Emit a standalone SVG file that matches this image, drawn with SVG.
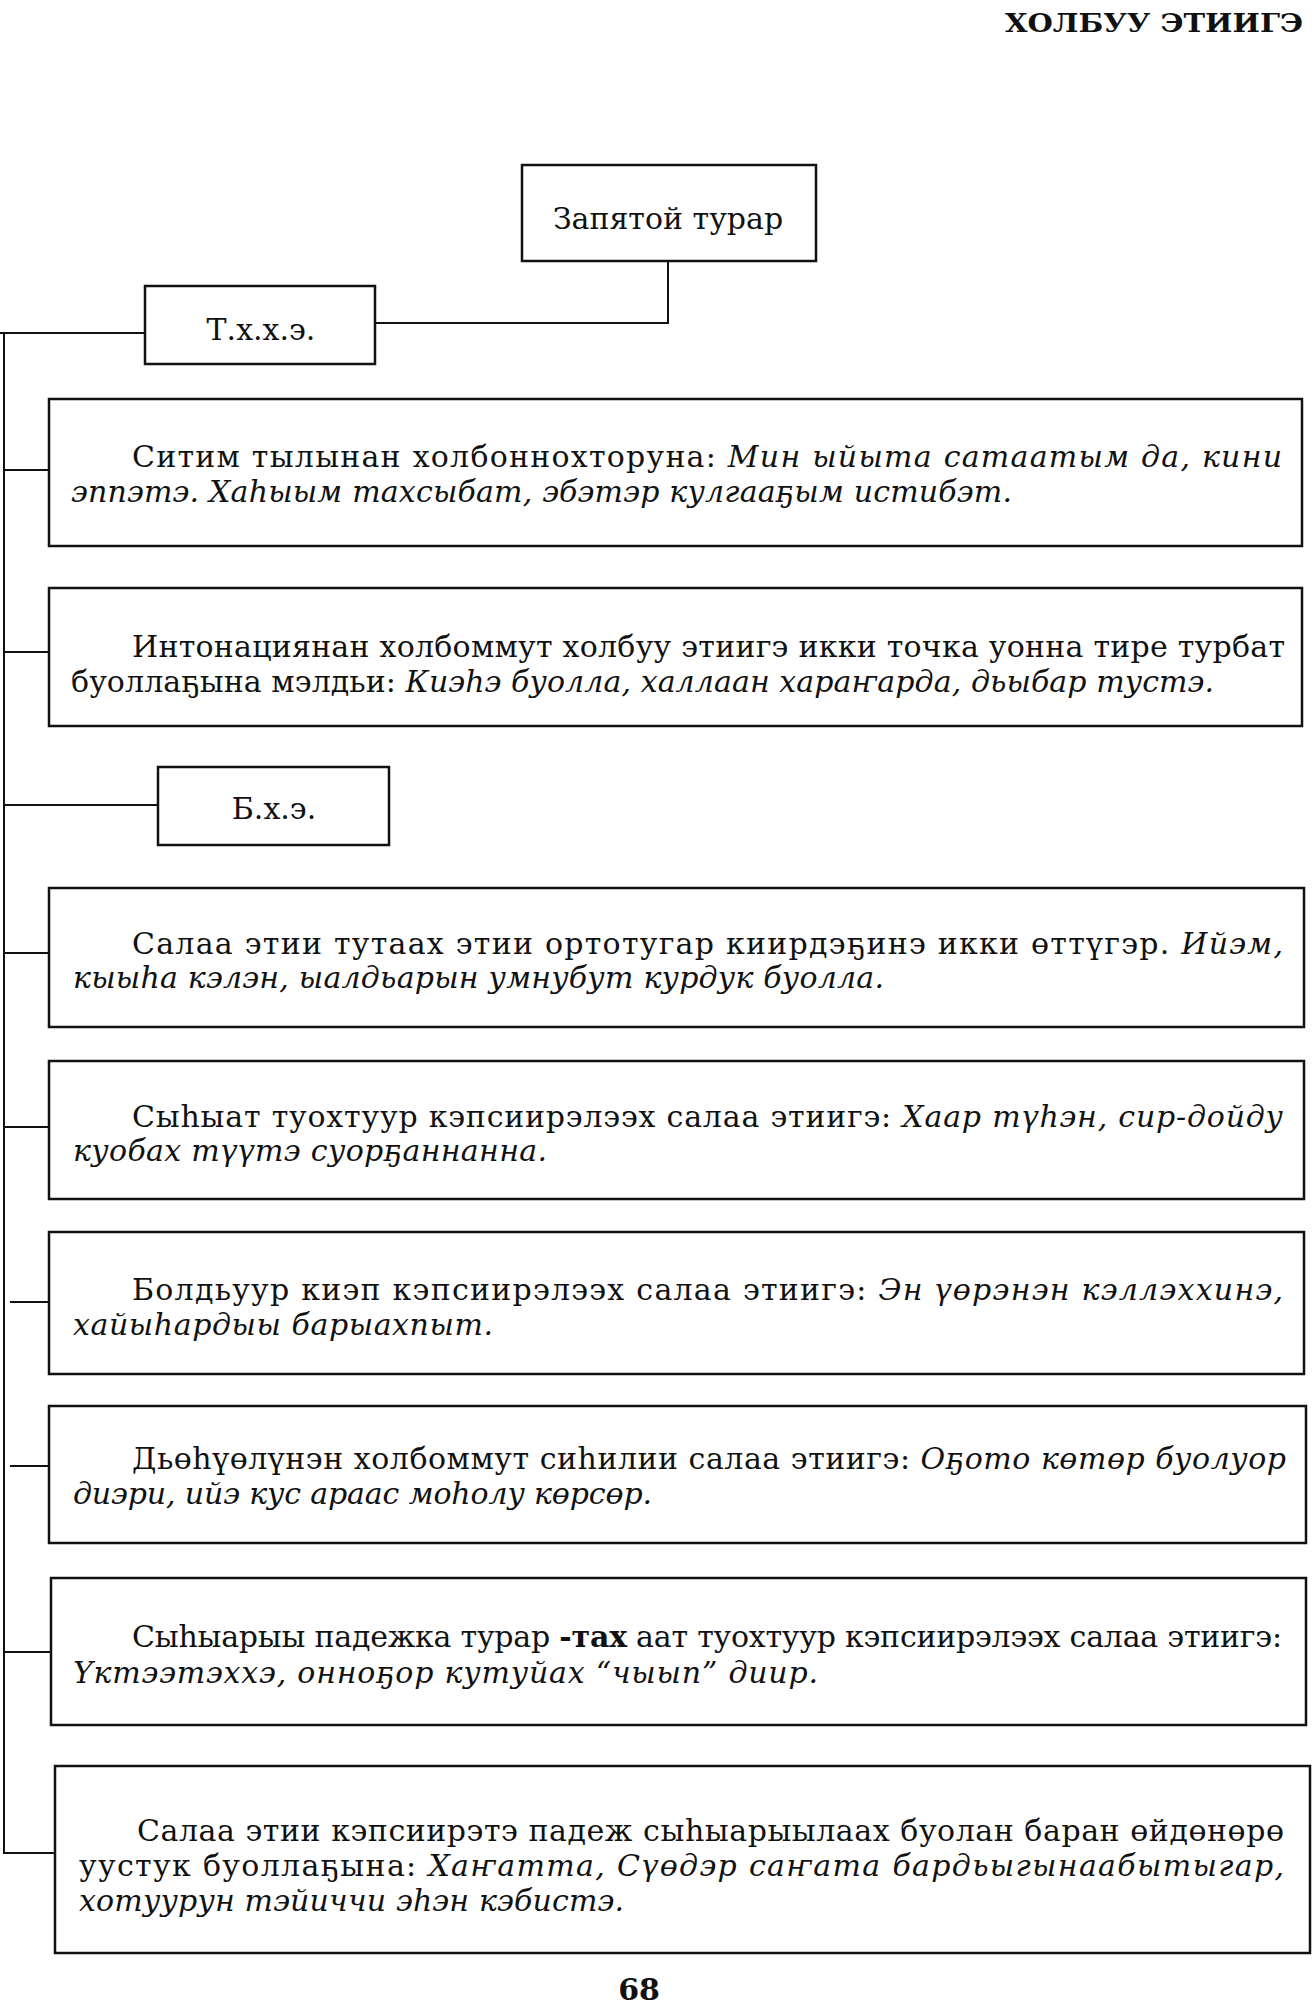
<svg xmlns="http://www.w3.org/2000/svg" width="1314" height="2006" viewBox="0 0 1314 2006">
<style>
  .bg { fill: #ffffff; }
  .box { fill: #ffffff; stroke: #111111; stroke-width: 2.5; }
  .conn { fill: none; stroke: #111111; stroke-width: 2; }
  .t { font-family: "DejaVu Serif", "Liberation Serif", serif; font-size: 30px; fill: #111111; }
  .i { font-style: italic; }
  .b { font-weight: bold; }
  .title { font-family: "DejaVu Serif", "Liberation Serif", serif; font-size: 26px; font-weight: bold; fill: #111111; }
</style>
<rect class="bg" x="0" y="0" width="1314" height="2006"/>

<text id="page-title" class="title" x="1005" y="32" textLength="298" lengthAdjust="spacingAndGlyphs">ХОЛБУУ ЭТИИГЭ</text>

<g id="connectors">
  <polyline class="conn" points="668,261 668,323 376,323"/>
  <polyline class="conn" points="0,333 144,333"/>
  <polyline class="conn" points="4,333 4,1853 55,1853"/>
  <line class="conn" x1="4" y1="470" x2="49" y2="470"/>
  <line class="conn" x1="4" y1="652" x2="49" y2="652"/>
  <line class="conn" x1="4" y1="805" x2="157" y2="805"/>
  <line class="conn" x1="4" y1="953" x2="49" y2="953"/>
  <line class="conn" x1="4" y1="1127" x2="49" y2="1127"/>
  <line class="conn" x1="10" y1="1302" x2="49" y2="1302"/>
  <line class="conn" x1="10" y1="1466" x2="49" y2="1466"/>
  <line class="conn" x1="4" y1="1652" x2="51" y2="1652"/>
</g>

<g id="node-zapyatoi">
  <rect class="box" x="522" y="165" width="294" height="96"/>
  <text class="t" x="668" y="229" text-anchor="middle">Запятой турар</text>
</g>

<g id="node-txxe">
  <rect class="box" x="145" y="286" width="230" height="78"/>
  <text class="t" x="261" y="340" text-anchor="middle">Т.х.х.э.</text>
</g>

<g id="node-sitim">
  <rect class="box" x="49" y="399" width="1253" height="147"/>
  <text class="t" x="132" y="467" textLength="1150" lengthAdjust="spacing">Ситим тылынан холбоннохторуна: <tspan class="i">Мин ыйыта сатаатым да, кини</tspan></text>
  <text class="t i" x="71" y="502" textLength="941" lengthAdjust="spacing">эппэтэ. Хаһыым тахсыбат, эбэтэр кулгааҕым истибэт.</text>
</g>

<g id="node-intonatsiya">
  <rect class="box" x="49" y="588" width="1253" height="138"/>
  <text class="t" x="132" y="657" textLength="1153" lengthAdjust="spacing">Интонациянан холбоммут холбуу этиигэ икки точка уонна тире турбат</text>
  <text class="t" x="71" y="692" textLength="1143" lengthAdjust="spacing">буоллаҕына мэлдьи: <tspan class="i">Киэһэ буолла, халлаан хараҥарда, дьыбар тустэ.</tspan></text>
</g>

<g id="node-bxe">
  <rect class="box" x="158" y="767" width="231" height="78"/>
  <text class="t" x="274" y="819" text-anchor="middle">Б.х.э.</text>
</g>

<g id="node-salaa-tutaakh">
  <rect class="box" x="49" y="888" width="1255" height="139"/>
  <text class="t" x="132" y="954" textLength="1151" lengthAdjust="spacing">Салаа этии тутаах этии ортотугар киирдэҕинэ икки өттүгэр. <tspan class="i">Ийэм,</tspan></text>
  <text class="t i" x="73" y="988" textLength="811" lengthAdjust="spacing">кыыһа кэлэн, ыалдьарын умнубут курдук буолла.</text>
</g>

<g id="node-syhyat">
  <rect class="box" x="49" y="1061" width="1255" height="138"/>
  <text class="t" x="132" y="1127" textLength="1151" lengthAdjust="spacing">Сыһыат туохтуур кэпсиирэлээх салаа этиигэ: <tspan class="i">Хаар түһэн, сир-дойду</tspan></text>
  <text class="t i" x="73" y="1161" textLength="474" lengthAdjust="spacing">куобах түүтэ суорҕаннанна.</text>
</g>

<g id="node-boldyuur">
  <rect class="box" x="49" y="1232" width="1255" height="142"/>
  <text class="t" x="132" y="1300" textLength="1151" lengthAdjust="spacing">Болдьуур киэп кэпсиирэлээх салаа этиигэ: <tspan class="i">Эн үөрэнэн кэллэххинэ,</tspan></text>
  <text class="t i" x="73" y="1335" textLength="420" lengthAdjust="spacing">хайыһардыы барыахпыт.</text>
</g>

<g id="node-dyohuolunen">
  <rect class="box" x="49" y="1406" width="1257" height="137"/>
  <text class="t" x="132" y="1469" textLength="1154" lengthAdjust="spacing">Дьөһүөлүнэн холбоммут сиһилии салаа этиигэ: <tspan class="i">Оҕото көтөр буолуор</tspan></text>
  <text class="t i" x="73" y="1504" textLength="579" lengthAdjust="spacing">диэри, ийэ кус араас моһолу көрсөр.</text>
</g>

<g id="node-syhyaryy">
  <rect class="box" x="51" y="1578" width="1255" height="147"/>
  <text class="t" x="132" y="1647" textLength="1150" lengthAdjust="spacing">Сыһыарыы падежка турар <tspan class="b">-тах</tspan> аат туохтуур кэпсиирэлээх салаа этиигэ:</text>
  <text class="t i" x="73" y="1683" textLength="745" lengthAdjust="spacing">Үктээтэххэ, онноҕор кутуйах “чыып” диир.</text>
</g>

<g id="node-kepsiirete">
  <rect class="box" x="55" y="1766" width="1255" height="187"/>
  <text class="t" x="137" y="1841" textLength="1147" lengthAdjust="spacing">Салаа этии кэпсиирэтэ падеж сыһыарыылаах буолан баран өйдөнөрө</text>
  <text class="t" x="79" y="1876" textLength="1205" lengthAdjust="spacing">уустук буоллаҕына: <tspan class="i">Хаҥатта, Сүөдэр саҥата бардьыгынаабытыгар,</tspan></text>
  <text class="t i" x="79" y="1911" textLength="545" lengthAdjust="spacing">хотуурун тэйиччи эһэн кэбистэ.</text>
</g>

<text id="page-number" class="t b" x="639" y="2000" text-anchor="middle">68</text>
</svg>
